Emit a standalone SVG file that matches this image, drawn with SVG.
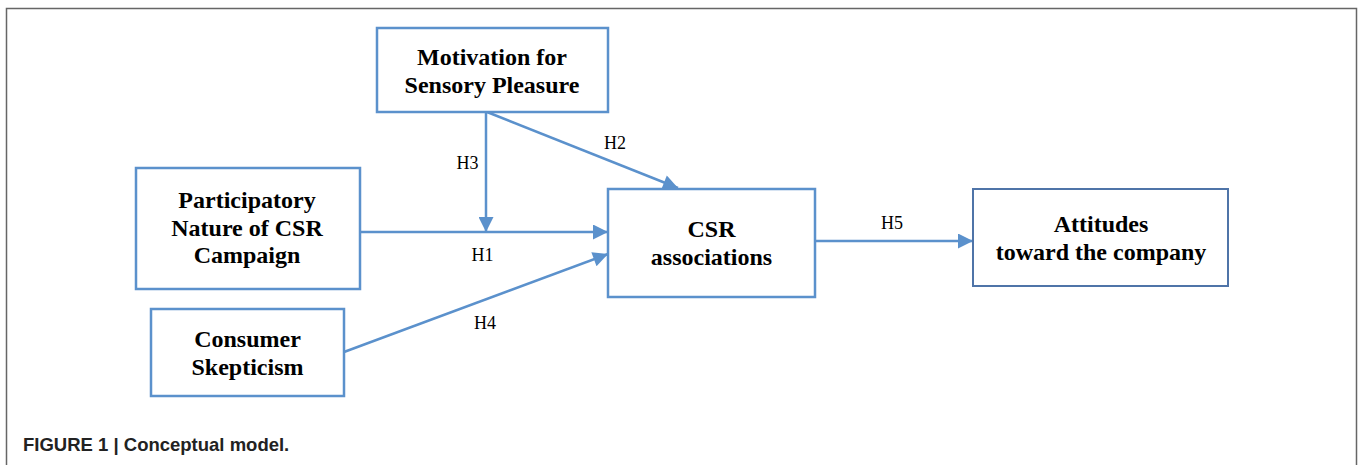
<svg xmlns="http://www.w3.org/2000/svg" width="1358" height="465" viewBox="0 0 1358 465">
<style>
.box{fill:#fff;stroke:#5B91CC;stroke-width:2.5}
.box2{fill:#fff;stroke:#4F74A8;stroke-width:2}
.t{font-family:"Liberation Serif","Times New Roman",serif;font-weight:bold;font-size:24px;fill:#000;text-anchor:middle}
.l{font-family:"Liberation Serif","Times New Roman",serif;font-size:18px;fill:#000;text-anchor:middle}
.c{stroke:#5B91CC;stroke-width:2.5;fill:none}
.cap{font-family:"Liberation Sans",Arial,sans-serif;font-weight:bold;font-size:18.5px;fill:#222}
</style>
<defs>
<marker id="ah" viewBox="0 0 10 10" refX="10" refY="5" markerWidth="6.5" markerHeight="6" markerUnits="strokeWidth" orient="auto">
<path d="M0,0 L10,5 L0,10 z" fill="#5B91CC"/>
</marker>
</defs>
<rect width="1358" height="465" fill="#fff"/>
<path d="M6.5,470 L6.5,8.5 L1356.5,8.5 L1356.5,470" fill="none" stroke="#666" stroke-width="1.5"/>
<g id="connectors">
<line class="c" x1="360" y1="232" x2="608" y2="232" marker-end="url(#ah)"/>
<line class="c" x1="486" y1="112" x2="486" y2="232" marker-end="url(#ah)"/>
<line class="c" x1="487" y1="112" x2="678" y2="188" marker-end="url(#ah)"/>
<line class="c" x1="344" y1="352" x2="608" y2="254" marker-end="url(#ah)"/>
<line class="c" x1="815" y1="241" x2="973" y2="241" marker-end="url(#ah)"/>
<text class="l" x="467.5" y="169">H3</text>
<text class="l" x="615" y="149">H2</text>
<text class="l" x="482.5" y="261">H1</text>
<text class="l" x="485" y="329">H4</text>
<text class="l" x="892" y="229">H5</text>
</g>
<g id="motivation">
<rect class="box" x="377" y="28" width="231" height="84"/>
<text class="t" x="492" y="65">Motivation for</text>
<text class="t" x="492" y="93">Sensory Pleasure</text>
</g>
<g id="participatory">
<rect class="box" x="136" y="168" width="224" height="121"/>
<text class="t" x="247" y="208">Participatory</text>
<text class="t" x="247" y="236">Nature of CSR</text>
<text class="t" x="247" y="263">Campaign</text>
</g>
<g id="skepticism">
<rect class="box" x="151" y="309" width="193" height="87"/>
<text class="t" x="247.5" y="347">Consumer</text>
<text class="t" x="247.5" y="375">Skepticism</text>
</g>
<g id="csr">
<rect class="box" x="608" y="189" width="207" height="108"/>
<text class="t" x="711.5" y="237">CSR</text>
<text class="t" x="711.5" y="265">associations</text>
</g>
<g id="attitudes">
<rect class="box2" x="973" y="189" width="255" height="97"/>
<text class="t" x="1101" y="232">Attitudes</text>
<text class="t" x="1101" y="260">toward the company</text>
</g>
<text class="cap" x="23" y="451">FIGURE 1 | Conceptual model.</text>
</svg>
